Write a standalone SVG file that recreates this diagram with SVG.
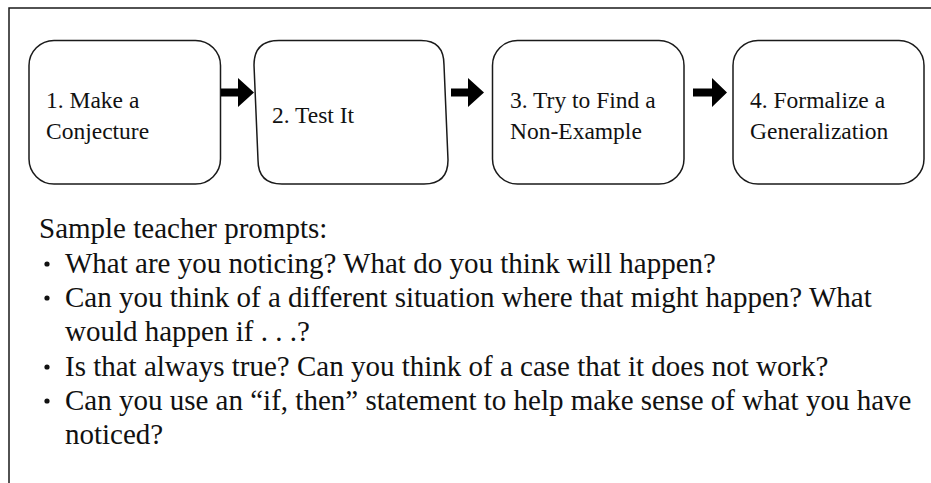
<svg xmlns="http://www.w3.org/2000/svg" width="931" height="483" viewBox="0 0 931 483">
<style>
.box{fill:#fff;stroke:#1a1a1a;stroke-width:1.5}
.frame{fill:none;stroke:#1a1a1a;stroke-width:1.5}
.lbl{font-family:"Liberation Serif","Times New Roman",serif;font-size:23.5px;fill:#111}
.body{font-family:"Liberation Serif","Times New Roman",serif;font-size:29px;fill:#111}
.arr{fill:#000}
</style>
<rect width="931" height="483" fill="#fff"/>
<path class="frame" d="M9,483 V8 H931"/>
<g id="node1">
<rect class="box" x="29" y="40.5" width="191.5" height="143.5" rx="25"/>
<text class="lbl" x="46" y="108">1. Make a</text>
<text class="lbl" x="46" y="139">Conjecture</text>
</g>
<g id="node2">
<path class="box" d="M279,40.5 H421 Q444,40.5 444,65 L448,160 Q448,184 424,184 H282 Q258,184 258,160 L254,65 Q254,40.5 279,40.5 Z"/>
<text class="lbl" x="272" y="123">2. Test It</text>
</g>
<g id="node3">
<rect class="box" x="492.5" y="40.5" width="191.5" height="143.5" rx="25"/>
<text class="lbl" x="510" y="108">3. Try to Find a</text>
<text class="lbl" x="510" y="139">Non-Example</text>
</g>
<g id="node4">
<rect class="box" x="733" y="40.5" width="191" height="143.5" rx="25"/>
<text class="lbl" x="750" y="108">4. Formalize a</text>
<text class="lbl" x="750" y="139">Generalization</text>
</g>
<g id="connectors">
<path class="arr" d="M221,88.5 H238 V78 L254,92.5 L238,107 V96.5 H221 Z"/>
<path class="arr" d="M451,88.5 H468 V78 L484,92.5 L468,107 V96.5 H451 Z"/>
<path class="arr" d="M693,88.5 H712 V78 L727,92.5 L712,107 V96.5 H693 Z"/>
</g>
<g id="prompts">
<text class="body" x="39" y="238">Sample teacher prompts:</text>
<circle cx="47" cy="264" r="2.6" fill="#111"/>
<text class="body" x="65" y="273">What are you noticing? What do you think will happen?</text>
<circle cx="47" cy="298" r="2.6" fill="#111"/>
<text class="body" x="65" y="307">Can you think of a different situation where that might happen? What</text>
<text class="body" x="65" y="341">would happen if . . .?</text>
<circle cx="47" cy="367" r="2.6" fill="#111"/>
<text class="body" x="65" y="376">Is that always true? Can you think of a case that it does not work?</text>
<circle cx="47" cy="401" r="2.6" fill="#111"/>
<text class="body" x="65" y="410">Can you use an “if, then” statement to help make sense of what you have</text>
<text class="body" x="65" y="444">noticed?</text>
</g>
</svg>
